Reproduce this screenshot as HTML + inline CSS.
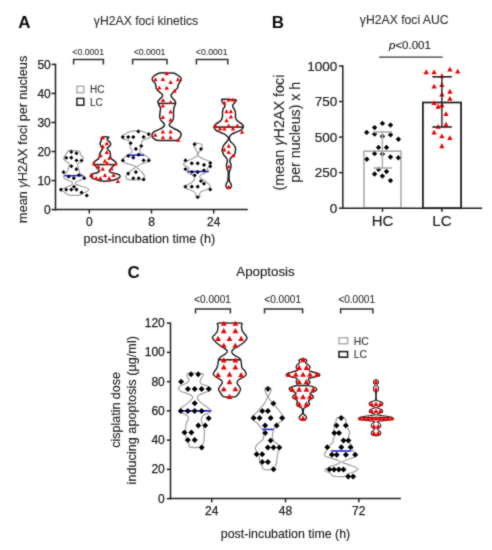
<!DOCTYPE html>
<html><head><meta charset="utf-8"><style>
html,body{margin:0;padding:0;background:#fff;width:492px;height:550px;overflow:hidden}
svg{display:block}
</style></head><body>
<svg width="492" height="550" viewBox="0 0 492 550" font-family='"Liberation Sans", sans-serif'>
<defs><filter id="bl" x="0" y="0" width="492" height="550" filterUnits="userSpaceOnUse"><feConvolveMatrix order="3" kernelMatrix="0.025 0.09 0.025 0.09 0.54 0.09 0.025 0.09 0.025" edgeMode="duplicate"/></filter></defs>
<rect width="492" height="550" fill="#fff"/>
<g filter="url(#bl)">
<text x="24.3" y="27.8" font-size="17" text-anchor="middle" font-weight="bold" fill="#111">A</text>
<text x="146" y="25" font-size="12.2" text-anchor="middle" fill="#333" stroke="#333" stroke-width="0.12">γH2AX foci kinetics</text>
<line x1="55.5" y1="63.7" x2="55.5" y2="210.35" stroke="#222" stroke-width="1.5" stroke-linecap="butt"/>
<line x1="54.75" y1="209.6" x2="247.8" y2="209.6" stroke="#222" stroke-width="1.5" stroke-linecap="butt"/>
<line x1="51.5" y1="209.6" x2="55.5" y2="209.6" stroke="#222" stroke-width="1.5" stroke-linecap="butt"/>
<text x="50.8" y="213.9" font-size="12" text-anchor="end" fill="#222" stroke="#222" stroke-width="0.25">0</text>
<line x1="51.5" y1="180.56" x2="55.5" y2="180.56" stroke="#222" stroke-width="1.5" stroke-linecap="butt"/>
<text x="50.8" y="184.86" font-size="12" text-anchor="end" fill="#222" stroke="#222" stroke-width="0.25">10</text>
<line x1="51.5" y1="151.51999999999998" x2="55.5" y2="151.51999999999998" stroke="#222" stroke-width="1.5" stroke-linecap="butt"/>
<text x="50.8" y="155.82" font-size="12" text-anchor="end" fill="#222" stroke="#222" stroke-width="0.25">20</text>
<line x1="51.5" y1="122.47999999999999" x2="55.5" y2="122.47999999999999" stroke="#222" stroke-width="1.5" stroke-linecap="butt"/>
<text x="50.8" y="126.77999999999999" font-size="12" text-anchor="end" fill="#222" stroke="#222" stroke-width="0.25">30</text>
<line x1="51.5" y1="93.44" x2="55.5" y2="93.44" stroke="#222" stroke-width="1.5" stroke-linecap="butt"/>
<text x="50.8" y="97.74" font-size="12" text-anchor="end" fill="#222" stroke="#222" stroke-width="0.25">40</text>
<line x1="51.5" y1="64.4" x2="55.5" y2="64.4" stroke="#222" stroke-width="1.5" stroke-linecap="butt"/>
<text x="50.8" y="68.7" font-size="12" text-anchor="end" fill="#222" stroke="#222" stroke-width="0.25">50</text>
<line x1="89.3" y1="209.6" x2="89.3" y2="213.5" stroke="#222" stroke-width="1.5" stroke-linecap="butt"/>
<text x="89.3" y="226" font-size="12" text-anchor="middle" fill="#222" stroke="#222" stroke-width="0.25">0</text>
<line x1="151.5" y1="209.6" x2="151.5" y2="213.5" stroke="#222" stroke-width="1.5" stroke-linecap="butt"/>
<text x="151.5" y="226" font-size="12" text-anchor="middle" fill="#222" stroke="#222" stroke-width="0.25">8</text>
<line x1="213.7" y1="209.6" x2="213.7" y2="213.5" stroke="#222" stroke-width="1.5" stroke-linecap="butt"/>
<text x="213.7" y="226" font-size="12" text-anchor="middle" fill="#222" stroke="#222" stroke-width="0.25">24</text>
<text x="149.4" y="242.6" font-size="12.6" text-anchor="middle" fill="#222" stroke="#222" stroke-width="0.12">post-incubation time (h)</text>
<text x="27.3" y="139.35" font-size="12.7" text-anchor="middle" fill="#222" transform="rotate(-90 27.3 139.35)" stroke="#222" stroke-width="0.12">mean <tspan font-style="italic">γ</tspan>H2AX foci per nucleus</text>
<path d="M73.60000000000001,64.6V59.5H103.39999999999999V64.6" fill="none" stroke="#333" stroke-width="1.5"/>
<text x="88.2" y="54.7" font-size="8.7" text-anchor="middle" fill="#333" stroke="#333" stroke-width="0.12">&lt;0.0001</text>
<path d="M132.6,64.6V59.5H167.0V64.6" fill="none" stroke="#333" stroke-width="1.5"/>
<text x="149.5" y="54.7" font-size="8.7" text-anchor="middle" fill="#333" stroke="#333" stroke-width="0.12">&lt;0.0001</text>
<path d="M196.39999999999998,64.6V59.5H227.8V64.6" fill="none" stroke="#333" stroke-width="1.5"/>
<text x="211.7" y="54.7" font-size="8.7" text-anchor="middle" fill="#333" stroke="#333" stroke-width="0.12">&lt;0.0001</text>
<rect x="76.9" y="86.2" width="6.9" height="6.6" fill="none" stroke="#aaa" stroke-width="1.4"/>
<rect x="76.9" y="98.4" width="6.9" height="6.8" fill="none" stroke="#222" stroke-width="1.5"/>
<text x="90" y="92.8" font-size="10" text-anchor="start" fill="#333" stroke="#333" stroke-width="0.12">HC</text>
<text x="90" y="105.6" font-size="10" text-anchor="start" fill="#333" stroke="#333" stroke-width="0.12">LC</text>
<path d="M68.10,151.00 C68.65,150.47 69.18,150.38 70.00,150.30 C70.82,150.22 72.00,150.42 73.00,150.50 C74.00,150.58 75.03,150.72 76.00,150.80 C76.97,150.88 78.10,150.67 78.80,151.00 C79.50,151.33 79.85,152.13 80.20,152.80 C80.55,153.47 80.43,154.28 80.90,155.00 C81.37,155.72 82.58,156.40 83.00,157.10 C83.42,157.80 83.63,158.43 83.40,159.20 C83.17,159.97 82.37,161.10 81.60,161.70 C80.83,162.30 79.45,162.38 78.80,162.80 C78.15,163.22 77.83,163.50 77.70,164.20 C77.57,164.90 77.82,166.05 78.00,167.00 C78.18,167.95 78.55,169.07 78.80,169.90 C79.05,170.73 79.22,171.28 79.50,172.00 C79.78,172.72 79.92,173.60 80.50,174.20 C81.08,174.80 82.42,175.05 83.00,175.60 C83.58,176.15 84.37,176.77 84.00,177.50 C83.63,178.23 82.05,179.35 80.80,180.00 C79.55,180.65 77.40,180.87 76.50,181.40 C75.60,181.93 75.40,182.67 75.40,183.20 C75.40,183.73 75.60,184.13 76.50,184.60 C77.40,185.07 79.15,185.47 80.80,186.00 C82.45,186.53 85.05,187.20 86.40,187.80 C87.75,188.40 88.90,188.95 88.90,189.60 C88.90,190.25 87.40,191.05 86.40,191.70 C85.40,192.35 84.08,192.92 82.90,193.50 C81.72,194.08 80.78,194.90 79.30,195.20 C77.82,195.50 75.65,195.30 74.00,195.30 C72.35,195.30 70.53,195.38 69.40,195.20 C68.27,195.02 68.03,194.73 67.20,194.20 C66.37,193.67 65.40,192.63 64.40,192.00 C63.40,191.37 61.20,191.05 61.20,190.40 C61.20,189.75 63.15,188.77 64.40,188.10 C65.65,187.43 67.52,186.93 68.70,186.40 C69.88,185.87 70.85,185.43 71.50,184.90 C72.15,184.37 72.60,183.73 72.60,183.20 C72.60,182.67 72.27,182.23 71.50,181.70 C70.73,181.17 69.12,180.53 68.00,180.00 C66.88,179.47 65.52,178.98 64.80,178.50 C64.08,178.02 63.87,177.58 63.70,177.10 C63.53,176.62 63.42,176.22 63.80,175.60 C64.18,174.98 65.40,174.12 66.00,173.40 C66.60,172.68 67.00,172.12 67.40,171.30 C67.80,170.48 68.10,169.45 68.40,168.50 C68.70,167.55 69.13,166.43 69.20,165.60 C69.27,164.77 69.33,164.20 68.80,163.50 C68.27,162.80 66.83,162.12 66.00,161.40 C65.17,160.68 64.05,160.03 63.80,159.20 C63.55,158.37 64.02,157.35 64.50,156.40 C64.98,155.45 66.10,154.40 66.70,153.50 C67.30,152.60 67.55,151.53 68.10,151.00Z" fill="none" stroke="#a0a0a0" stroke-width="1.2" stroke-linejoin="round"/>
<line x1="64.4" y1="175.7" x2="83.2" y2="175.7" stroke="#2828d8" stroke-width="1.6" stroke-linecap="butt"/>
<path d="M71.30,149.70L73.40,151.80L71.30,153.90L69.20,151.80Z" fill="#000"/>
<path d="M76.50,151.10L78.60,153.20L76.50,155.30L74.40,153.20Z" fill="#000"/>
<path d="M66.20,155.70L68.30,157.80L66.20,159.90L64.10,157.80Z" fill="#000"/>
<path d="M71.30,155.60L73.40,157.70L71.30,159.80L69.20,157.70Z" fill="#000"/>
<path d="M76.50,158.40L78.60,160.50L76.50,162.60L74.40,160.50Z" fill="#000"/>
<path d="M81.50,158.40L83.60,160.50L81.50,162.60L79.40,160.50Z" fill="#000"/>
<path d="M71.30,164.10L73.40,166.20L71.30,168.30L69.20,166.20Z" fill="#000"/>
<path d="M76.50,167.10L78.60,169.20L76.50,171.30L74.40,169.20Z" fill="#000"/>
<path d="M63.60,170.10L65.70,172.20L63.60,174.30L61.50,172.20Z" fill="#000"/>
<path d="M79.00,172.90L81.10,175.00L79.00,177.10L76.90,175.00Z" fill="#000"/>
<path d="M68.70,174.50L70.80,176.60L68.70,178.70L66.60,176.60Z" fill="#000"/>
<path d="M73.80,176.10L75.90,178.20L73.80,180.30L71.70,178.20Z" fill="#000"/>
<path d="M84.20,176.10L86.30,178.20L84.20,180.30L82.10,178.20Z" fill="#000"/>
<path d="M74.00,184.60L76.10,186.70L74.00,188.80L71.90,186.70Z" fill="#000"/>
<path d="M61.00,187.50L63.10,189.60L61.00,191.70L58.90,189.60Z" fill="#000"/>
<path d="M66.20,187.50L68.30,189.60L66.20,191.70L64.10,189.60Z" fill="#000"/>
<path d="M71.30,187.50L73.40,189.60L71.30,191.70L69.20,189.60Z" fill="#000"/>
<path d="M76.50,187.50L78.60,189.60L76.50,191.70L74.40,189.60Z" fill="#000"/>
<path d="M81.50,190.50L83.60,192.60L81.50,194.70L79.40,192.60Z" fill="#000"/>
<path d="M86.80,193.40L88.90,195.50L86.80,197.60L84.70,195.50Z" fill="#000"/>
<path d="M101.90,137.10 C103.13,136.50 107.72,136.73 108.60,137.10 C109.48,137.47 107.08,138.52 107.20,139.30 C107.32,140.08 108.70,140.98 109.30,141.80 C109.90,142.62 110.80,143.43 110.80,144.20 C110.80,144.97 109.90,145.73 109.30,146.40 C108.70,147.07 107.32,147.55 107.20,148.20 C107.08,148.85 108.13,149.65 108.60,150.30 C109.07,150.95 109.70,151.33 110.00,152.10 C110.30,152.87 110.27,153.95 110.40,154.90 C110.53,155.85 110.38,156.97 110.80,157.80 C111.22,158.63 112.13,159.25 112.90,159.90 C113.67,160.55 114.80,161.12 115.40,161.70 C116.00,162.28 116.62,162.88 116.50,163.40 C116.38,163.92 115.30,164.30 114.70,164.80 C114.10,165.30 113.55,165.72 112.90,166.40 C112.25,167.08 111.40,168.13 110.80,168.90 C110.20,169.67 109.30,170.42 109.30,171.00 C109.30,171.58 109.85,171.98 110.80,172.40 C111.75,172.82 113.58,173.08 115.00,173.50 C116.42,173.92 118.47,174.37 119.30,174.90 C120.13,175.43 120.23,176.10 120.00,176.70 C119.77,177.30 119.08,177.92 117.90,178.50 C116.72,179.08 114.92,179.75 112.90,180.20 C110.88,180.65 108.17,181.13 105.80,181.20 C103.43,181.27 100.72,181.00 98.70,180.60 C96.68,180.20 95.02,179.40 93.70,178.80 C92.38,178.20 91.33,177.58 90.80,177.00 C90.27,176.42 90.13,175.83 90.50,175.30 C90.87,174.77 91.88,174.22 93.00,173.80 C94.12,173.38 96.13,173.27 97.20,172.80 C98.27,172.33 99.27,171.65 99.40,171.00 C99.53,170.35 98.53,169.62 98.00,168.90 C97.47,168.18 96.80,167.38 96.20,166.70 C95.60,166.02 94.88,165.40 94.40,164.80 C93.92,164.20 93.30,163.62 93.30,163.10 C93.30,162.58 93.87,162.18 94.40,161.70 C94.93,161.22 95.78,160.73 96.50,160.20 C97.22,159.67 98.22,159.15 98.70,158.50 C99.18,157.85 99.23,157.13 99.40,156.30 C99.57,155.47 99.40,154.38 99.70,153.50 C100.00,152.62 100.72,151.77 101.20,151.00 C101.68,150.23 102.60,149.67 102.60,148.90 C102.60,148.13 101.62,147.30 101.20,146.40 C100.78,145.50 100.10,144.45 100.10,143.50 C100.10,142.55 100.90,141.77 101.20,140.70 C101.50,139.63 100.67,137.70 101.90,137.10Z" fill="none" stroke="#222" stroke-width="1.5" stroke-linejoin="round"/>
<line x1="94.4" y1="164.6" x2="114.2" y2="164.6" stroke="#222" stroke-width="1.6" stroke-linecap="butt"/>
<path d="M102.70,135.60L104.90,139.60L100.50,139.60Z" fill="#f00000"/>
<path d="M106.80,141.20L109.00,145.20L104.60,145.20Z" fill="#f00000"/>
<path d="M102.70,144.20L104.90,148.20L100.50,148.20Z" fill="#f00000"/>
<path d="M106.80,149.90L109.00,153.90L104.60,153.90Z" fill="#f00000"/>
<path d="M100.60,153.20L102.80,157.20L98.40,157.20Z" fill="#f00000"/>
<path d="M109.30,155.80L111.50,159.80L107.10,159.80Z" fill="#f00000"/>
<path d="M104.90,158.70L107.10,162.70L102.70,162.70Z" fill="#f00000"/>
<path d="M94.20,161.40L96.40,165.40L92.00,165.40Z" fill="#f00000"/>
<path d="M107.10,161.10L109.30,165.10L104.90,165.10Z" fill="#f00000"/>
<path d="M115.70,161.60L117.90,165.60L113.50,165.60Z" fill="#f00000"/>
<path d="M98.30,164.50L100.50,168.50L96.10,168.50Z" fill="#f00000"/>
<path d="M102.70,166.80L104.90,170.80L100.50,170.80Z" fill="#f00000"/>
<path d="M111.50,166.60L113.70,170.60L109.30,170.60Z" fill="#f00000"/>
<path d="M104.90,173.10L107.10,177.10L102.70,177.10Z" fill="#f00000"/>
<path d="M91.60,173.10L93.80,177.10L89.40,177.10Z" fill="#f00000"/>
<path d="M113.50,173.10L115.70,177.10L111.30,177.10Z" fill="#f00000"/>
<path d="M96.20,175.90L98.40,179.90L94.00,179.90Z" fill="#f00000"/>
<path d="M100.40,175.90L102.60,179.90L98.20,179.90Z" fill="#f00000"/>
<path d="M109.20,175.90L111.40,179.90L107.00,179.90Z" fill="#f00000"/>
<path d="M117.90,179.10L120.10,183.10L115.70,183.10Z" fill="#f00000"/>
<path d="M121.30,137.10 C121.70,136.15 124.48,134.35 126.10,133.40 C127.72,132.45 129.10,131.87 131.00,131.40 C132.90,130.93 135.60,130.60 137.50,130.60 C139.40,130.60 140.77,130.93 142.40,131.40 C144.03,131.87 145.95,132.65 147.30,133.40 C148.65,134.15 150.03,135.22 150.50,135.90 C150.97,136.58 150.92,136.97 150.10,137.50 C149.28,138.03 146.88,138.57 145.60,139.10 C144.32,139.63 143.07,139.95 142.40,140.70 C141.73,141.45 141.80,142.58 141.60,143.60 C141.40,144.62 141.47,145.72 141.20,146.80 C140.93,147.88 140.13,149.15 140.00,150.10 C139.87,151.05 140.00,151.83 140.40,152.50 C140.80,153.17 141.53,153.57 142.40,154.10 C143.27,154.63 144.52,155.03 145.60,155.70 C146.68,156.37 148.08,157.28 148.90,158.10 C149.72,158.92 150.90,159.92 150.50,160.60 C150.10,161.28 147.98,161.67 146.50,162.20 C145.02,162.73 143.03,163.18 141.60,163.80 C140.17,164.42 138.72,165.35 137.90,165.90 C137.08,166.45 136.77,166.70 136.70,167.10 C136.63,167.50 136.82,167.63 137.50,168.30 C138.18,168.97 139.85,170.22 140.80,171.10 C141.75,171.98 142.60,172.78 143.20,173.60 C143.80,174.42 144.27,175.12 144.40,176.00 C144.53,176.88 145.02,178.28 144.00,178.90 C142.98,179.52 140.87,179.57 138.30,179.70 C135.73,179.83 130.63,179.90 128.60,179.70 C126.57,179.50 126.52,179.12 126.10,178.50 C125.68,177.88 125.82,176.82 126.10,176.00 C126.38,175.18 126.98,174.48 127.80,173.60 C128.62,172.72 129.92,171.58 131.00,170.70 C132.08,169.82 133.55,168.90 134.30,168.30 C135.05,167.70 135.50,167.50 135.50,167.10 C135.50,166.70 135.32,166.38 134.30,165.90 C133.28,165.42 131.17,164.82 129.40,164.20 C127.63,163.58 124.98,162.80 123.70,162.20 C122.42,161.60 121.70,161.28 121.70,160.60 C121.70,159.92 122.78,158.95 123.70,158.10 C124.62,157.25 125.98,156.30 127.20,155.50 C128.42,154.70 130.17,154.00 131.00,153.30 C131.83,152.60 132.13,151.90 132.20,151.30 C132.27,150.70 131.73,150.45 131.40,149.70 C131.07,148.95 130.47,147.88 130.20,146.80 C129.93,145.72 130.07,144.28 129.80,143.20 C129.53,142.12 129.62,140.98 128.60,140.30 C127.58,139.62 124.92,139.63 123.70,139.10 C122.48,138.57 120.90,138.05 121.30,137.10Z" fill="none" stroke="#a0a0a0" stroke-width="1.2" stroke-linejoin="round"/>
<line x1="127.2" y1="155.2" x2="144.2" y2="155.2" stroke="#2828d8" stroke-width="1.6" stroke-linecap="butt"/>
<path d="M138.30,129.30L140.40,131.40L138.30,133.50L136.20,131.40Z" fill="#000"/>
<path d="M148.70,132.10L150.80,134.20L148.70,136.30L146.60,134.20Z" fill="#000"/>
<path d="M122.90,135.00L125.00,137.10L122.90,139.20L120.80,137.10Z" fill="#000"/>
<path d="M128.20,135.00L130.30,137.10L128.20,139.20L126.10,137.10Z" fill="#000"/>
<path d="M133.30,135.00L135.40,137.10L133.30,139.20L131.20,137.10Z" fill="#000"/>
<path d="M143.60,135.00L145.70,137.10L143.60,139.20L141.50,137.10Z" fill="#000"/>
<path d="M130.60,141.10L132.70,143.20L130.60,145.30L128.50,143.20Z" fill="#000"/>
<path d="M141.20,143.90L143.30,146.00L141.20,148.10L139.10,146.00Z" fill="#000"/>
<path d="M135.90,146.80L138.00,148.90L135.90,151.00L133.80,148.90Z" fill="#000"/>
<path d="M138.70,152.50L140.80,154.60L138.70,156.70L136.60,154.60Z" fill="#000"/>
<path d="M128.20,153.90L130.30,156.00L128.20,158.10L126.10,156.00Z" fill="#000"/>
<path d="M133.30,155.50L135.40,157.60L133.30,159.70L131.20,157.60Z" fill="#000"/>
<path d="M122.90,158.30L125.00,160.40L122.90,162.50L120.80,160.40Z" fill="#000"/>
<path d="M143.60,158.30L145.70,160.40L143.60,162.50L141.50,160.40Z" fill="#000"/>
<path d="M148.70,158.30L150.80,160.40L148.70,162.50L146.60,160.40Z" fill="#000"/>
<path d="M135.90,170.00L138.00,172.10L135.90,174.20L133.80,172.10Z" fill="#000"/>
<path d="M128.20,171.50L130.30,173.60L128.20,175.70L126.10,173.60Z" fill="#000"/>
<path d="M133.30,176.20L135.40,178.30L133.30,180.40L131.20,178.30Z" fill="#000"/>
<path d="M138.70,176.20L140.80,178.30L138.70,180.40L136.60,178.30Z" fill="#000"/>
<path d="M143.60,177.30L145.70,179.40L143.60,181.50L141.50,179.40Z" fill="#000"/>
<path d="M159.70,73.10 C161.60,72.72 164.30,72.90 166.60,72.90 C168.90,72.90 171.75,72.78 173.50,73.10 C175.25,73.42 175.95,74.12 177.10,74.80 C178.25,75.48 179.72,76.40 180.40,77.20 C181.08,78.00 181.33,78.72 181.20,79.60 C181.07,80.48 180.13,81.55 179.60,82.50 C179.07,83.45 178.33,84.42 178.00,85.30 C177.67,86.18 178.02,86.98 177.60,87.80 C177.18,88.62 176.25,89.40 175.50,90.20 C174.75,91.00 173.85,91.78 173.10,92.60 C172.35,93.42 171.20,94.28 171.00,95.10 C170.80,95.92 171.35,96.68 171.90,97.50 C172.45,98.32 173.68,99.17 174.30,100.00 C174.92,100.83 175.47,101.68 175.60,102.50 C175.73,103.32 175.38,103.97 175.10,104.90 C174.82,105.83 174.17,106.88 173.90,108.10 C173.63,109.32 173.57,110.83 173.50,112.20 C173.43,113.57 173.57,115.08 173.50,116.30 C173.43,117.52 173.52,118.48 173.10,119.50 C172.68,120.52 171.62,121.58 171.00,122.40 C170.38,123.22 169.60,123.80 169.40,124.40 C169.20,125.00 169.05,125.32 169.80,126.00 C170.55,126.68 172.53,127.75 173.90,128.50 C175.27,129.25 176.92,129.83 178.00,130.50 C179.08,131.17 179.87,131.83 180.40,132.50 C180.93,133.17 181.27,133.67 181.20,134.50 C181.13,135.33 180.68,136.55 180.00,137.50 C179.32,138.45 179.33,139.72 177.10,140.20 C174.87,140.68 169.98,140.40 166.60,140.40 C163.22,140.40 158.93,140.50 156.80,140.20 C154.67,139.90 154.58,139.27 153.80,138.60 C153.02,137.93 152.33,137.03 152.10,136.20 C151.87,135.37 152.02,134.35 152.40,133.60 C152.78,132.85 153.40,132.35 154.40,131.70 C155.40,131.05 157.05,130.38 158.40,129.70 C159.75,129.02 161.48,128.35 162.50,127.60 C163.52,126.85 164.37,126.00 164.50,125.20 C164.63,124.40 163.97,123.75 163.30,122.80 C162.63,121.85 161.10,120.58 160.50,119.50 C159.90,118.42 159.77,117.52 159.70,116.30 C159.63,115.08 159.97,113.57 160.10,112.20 C160.23,110.83 160.70,109.32 160.50,108.10 C160.30,106.88 159.35,105.92 158.90,104.90 C158.45,103.88 157.88,102.68 157.80,102.00 C157.72,101.32 157.95,101.42 158.40,100.80 C158.85,100.18 159.82,99.05 160.50,98.30 C161.18,97.55 162.23,96.97 162.50,96.30 C162.77,95.63 162.63,95.05 162.10,94.30 C161.57,93.55 160.18,92.62 159.30,91.80 C158.42,90.98 157.35,90.20 156.80,89.40 C156.25,88.60 156.27,88.02 156.00,87.00 C155.73,85.98 155.73,84.32 155.20,83.30 C154.67,82.28 153.28,81.78 152.80,80.90 C152.32,80.02 151.90,78.95 152.30,78.00 C152.70,77.05 153.97,76.02 155.20,75.20 C156.43,74.38 157.80,73.48 159.70,73.10Z" fill="none" stroke="#222" stroke-width="1.5" stroke-linejoin="round"/>
<line x1="158.4" y1="103.4" x2="175.9" y2="103.4" stroke="#222" stroke-width="1.6" stroke-linecap="butt"/>
<path d="M166.70,71.30L168.90,75.30L164.50,75.30Z" fill="#f00000"/>
<path d="M155.40,77.30L157.60,81.30L153.20,81.30Z" fill="#f00000"/>
<path d="M162.90,77.00L165.10,81.00L160.70,81.00Z" fill="#f00000"/>
<path d="M178.10,77.30L180.30,81.30L175.90,81.30Z" fill="#f00000"/>
<path d="M170.60,79.90L172.80,83.90L168.40,83.90Z" fill="#f00000"/>
<path d="M159.30,85.60L161.50,89.60L157.10,89.60Z" fill="#f00000"/>
<path d="M166.70,85.70L168.90,89.70L164.50,89.70Z" fill="#f00000"/>
<path d="M174.50,88.80L176.70,92.80L172.30,92.80Z" fill="#f00000"/>
<path d="M163.00,98.00L165.20,102.00L160.80,102.00Z" fill="#f00000"/>
<path d="M170.60,100.10L172.80,104.10L168.40,104.10Z" fill="#f00000"/>
<path d="M162.90,103.50L165.10,107.50L160.70,107.50Z" fill="#f00000"/>
<path d="M170.60,109.60L172.80,113.60L168.40,113.60Z" fill="#f00000"/>
<path d="M162.90,114.90L165.10,118.90L160.70,118.90Z" fill="#f00000"/>
<path d="M170.60,117.70L172.80,121.70L168.40,121.70Z" fill="#f00000"/>
<path d="M162.90,129.60L165.10,133.60L160.70,133.60Z" fill="#f00000"/>
<path d="M170.60,129.60L172.80,133.60L168.40,133.60Z" fill="#f00000"/>
<path d="M155.20,132.70L157.40,136.70L153.00,136.70Z" fill="#f00000"/>
<path d="M162.90,135.30L165.10,139.30L160.70,139.30Z" fill="#f00000"/>
<path d="M170.60,135.30L172.80,139.30L168.40,139.30Z" fill="#f00000"/>
<path d="M178.20,137.80L180.40,141.80L176.00,141.80Z" fill="#f00000"/>
<path d="M193.80,143.10 C194.35,142.60 196.22,143.20 197.50,143.40 C198.78,143.60 200.75,143.67 201.50,144.30 C202.25,144.93 202.13,146.18 202.00,147.20 C201.87,148.22 201.25,149.52 200.70,150.40 C200.15,151.28 199.17,151.75 198.70,152.50 C198.23,153.25 197.77,154.15 197.90,154.90 C198.03,155.65 198.55,156.32 199.50,157.00 C200.45,157.68 202.10,158.33 203.60,159.00 C205.10,159.67 207.22,160.40 208.50,161.00 C209.78,161.60 210.90,161.92 211.30,162.60 C211.70,163.28 211.37,164.28 210.90,165.10 C210.43,165.92 209.18,166.83 208.50,167.50 C207.82,168.17 206.83,168.48 206.80,169.10 C206.77,169.72 208.70,170.48 208.30,171.20 C207.90,171.92 205.73,172.70 204.40,173.40 C203.07,174.10 201.05,174.72 200.30,175.40 C199.55,176.08 199.48,176.82 199.90,177.50 C200.32,178.18 201.65,178.68 202.80,179.50 C203.95,180.32 205.65,181.45 206.80,182.40 C207.95,183.35 209.15,184.33 209.70,185.20 C210.25,186.07 210.72,186.85 210.10,187.60 C209.48,188.35 207.50,189.02 206.00,189.70 C204.50,190.38 202.18,190.97 201.10,191.70 C200.02,192.43 199.70,193.28 199.50,194.10 C199.30,194.92 200.20,195.92 199.90,196.60 C199.60,197.28 198.37,198.20 197.70,198.20 C197.03,198.20 196.20,197.20 195.90,196.60 C195.60,196.00 196.12,195.35 195.90,194.60 C195.68,193.85 195.62,192.92 194.60,192.10 C193.58,191.28 191.42,190.38 189.80,189.70 C188.18,189.02 185.85,188.55 184.90,188.00 C183.95,187.45 183.83,186.87 184.10,186.40 C184.37,185.93 185.42,185.73 186.50,185.20 C187.58,184.67 189.38,184.02 190.60,183.20 C191.82,182.38 193.07,181.25 193.80,180.30 C194.53,179.35 195.13,178.32 195.00,177.50 C194.87,176.68 194.02,176.08 193.00,175.40 C191.98,174.72 189.85,174.10 188.90,173.40 C187.95,172.70 187.30,171.98 187.30,171.20 C187.30,170.42 188.77,169.38 188.90,168.70 C189.03,168.02 188.77,167.63 188.10,167.10 C187.43,166.57 185.70,166.03 184.90,165.50 C184.10,164.97 183.17,164.52 183.30,163.90 C183.43,163.28 184.62,162.48 185.70,161.80 C186.78,161.12 188.32,160.47 189.80,159.80 C191.28,159.13 193.38,158.55 194.60,157.80 C195.82,157.05 196.62,156.18 197.10,155.30 C197.58,154.42 197.70,153.45 197.50,152.50 C197.30,151.55 196.45,150.62 195.90,149.60 C195.35,148.58 194.55,147.48 194.20,146.40 C193.85,145.32 193.25,143.60 193.80,143.10Z" fill="none" stroke="#a0a0a0" stroke-width="1.2" stroke-linejoin="round"/>
<line x1="187.1" y1="171.5" x2="208.7" y2="171.5" stroke="#2828d8" stroke-width="1.6" stroke-linecap="butt"/>
<path d="M194.60,142.20L196.70,144.30L194.60,146.40L192.50,144.30Z" fill="#000"/>
<path d="M201.00,146.90L203.10,149.00L201.00,151.10L198.90,149.00Z" fill="#000"/>
<path d="M185.50,158.30L187.60,160.40L185.50,162.50L183.40,160.40Z" fill="#000"/>
<path d="M191.80,161.20L193.90,163.30L191.80,165.40L189.70,163.30Z" fill="#000"/>
<path d="M197.70,161.20L199.80,163.30L197.70,165.40L195.60,163.30Z" fill="#000"/>
<path d="M204.00,162.80L206.10,164.90L204.00,167.00L201.90,164.90Z" fill="#000"/>
<path d="M210.20,160.90L212.30,163.00L210.20,165.10L208.10,163.00Z" fill="#000"/>
<path d="M210.20,164.20L212.30,166.30L210.20,168.40L208.10,166.30Z" fill="#000"/>
<path d="M185.50,167.00L187.60,169.10L185.50,171.20L183.40,169.10Z" fill="#000"/>
<path d="M191.80,170.00L193.90,172.10L191.80,174.20L189.70,172.10Z" fill="#000"/>
<path d="M197.70,170.00L199.80,172.10L197.70,174.20L195.60,172.10Z" fill="#000"/>
<path d="M204.00,168.30L206.10,170.40L204.00,172.50L201.90,170.40Z" fill="#000"/>
<path d="M194.60,173.20L196.70,175.30L194.60,177.40L192.50,175.30Z" fill="#000"/>
<path d="M201.00,178.90L203.10,181.00L201.00,183.10L198.90,181.00Z" fill="#000"/>
<path d="M204.00,181.60L206.10,183.70L204.00,185.80L201.90,183.70Z" fill="#000"/>
<path d="M185.50,184.60L187.60,186.70L185.50,188.80L183.40,186.70Z" fill="#000"/>
<path d="M191.80,184.60L193.90,186.70L191.80,188.80L189.70,186.70Z" fill="#000"/>
<path d="M197.70,184.60L199.80,186.70L197.70,188.80L195.60,186.70Z" fill="#000"/>
<path d="M210.20,187.30L212.30,189.40L210.20,191.50L208.10,189.40Z" fill="#000"/>
<path d="M197.70,194.90L199.80,197.00L197.70,199.10L195.60,197.00Z" fill="#000"/>
<path d="M222.10,99.30 C223.25,99.12 226.57,99.32 228.80,99.40 C231.03,99.48 234.32,99.53 235.50,99.80 C236.68,100.07 236.10,100.47 235.90,101.00 C235.70,101.53 234.85,102.27 234.30,103.00 C233.75,103.73 232.73,104.58 232.60,105.40 C232.47,106.22 233.08,106.95 233.50,107.90 C233.92,108.85 234.77,110.02 235.10,111.10 C235.43,112.18 235.43,113.32 235.50,114.40 C235.57,115.48 235.30,116.65 235.50,117.60 C235.70,118.55 236.10,119.35 236.70,120.10 C237.30,120.85 238.22,121.43 239.10,122.10 C239.98,122.77 241.28,123.37 242.00,124.10 C242.72,124.83 243.33,125.75 243.40,126.50 C243.47,127.25 242.83,127.98 242.40,128.60 C241.97,129.22 241.88,129.60 240.80,130.20 C239.72,130.80 237.40,131.53 235.90,132.20 C234.40,132.87 232.88,133.38 231.80,134.20 C230.72,135.02 229.67,135.95 229.40,137.10 C229.13,138.25 229.52,139.88 230.20,141.10 C230.88,142.32 232.62,143.25 233.50,144.40 C234.38,145.55 235.20,146.82 235.50,148.00 C235.80,149.18 235.50,150.35 235.30,151.50 C235.10,152.65 235.02,153.87 234.30,154.90 C233.58,155.93 231.75,156.68 231.00,157.70 C230.25,158.72 229.80,159.85 229.80,161.00 C229.80,162.15 230.87,163.32 231.00,164.60 C231.13,165.88 230.87,167.55 230.60,168.70 C230.33,169.85 229.67,170.15 229.40,171.50 C229.13,172.85 229.00,175.23 229.00,176.80 C229.00,178.37 229.07,179.68 229.40,180.90 C229.73,182.12 230.67,183.15 231.00,184.10 C231.33,185.05 231.60,185.90 231.40,186.60 C231.20,187.30 230.27,187.98 229.80,188.30 C229.33,188.62 229.03,188.50 228.60,188.50 C228.17,188.50 227.62,188.62 227.20,188.30 C226.78,187.98 226.28,187.30 226.10,186.60 C225.92,185.90 225.82,185.05 226.10,184.10 C226.38,183.15 227.45,182.12 227.80,180.90 C228.15,179.68 228.13,178.37 228.20,176.80 C228.27,175.23 228.40,172.85 228.20,171.50 C228.00,170.15 227.28,169.85 227.00,168.70 C226.72,167.55 226.43,165.88 226.50,164.60 C226.57,163.32 227.40,162.08 227.40,161.00 C227.40,159.92 227.12,159.12 226.50,158.10 C225.88,157.08 224.40,156.08 223.70,154.90 C223.00,153.72 222.57,151.80 222.30,151.00 C222.03,150.20 221.93,150.93 222.10,150.10 C222.27,149.27 222.57,147.35 223.30,146.00 C224.03,144.65 225.62,143.22 226.50,142.00 C227.38,140.78 228.38,139.52 228.60,138.70 C228.82,137.88 228.48,137.85 227.80,137.10 C227.12,136.35 225.87,135.02 224.50,134.20 C223.13,133.38 221.08,132.93 219.60,132.20 C218.12,131.47 216.53,130.57 215.60,129.80 C214.67,129.03 214.22,128.27 214.00,127.60 C213.78,126.93 213.90,126.45 214.30,125.80 C214.70,125.15 215.52,124.38 216.40,123.70 C217.28,123.02 218.72,122.43 219.60,121.70 C220.48,120.97 221.22,120.25 221.70,119.30 C222.18,118.35 222.37,117.22 222.50,116.00 C222.63,114.78 222.37,113.22 222.50,112.00 C222.63,110.78 222.90,109.65 223.30,108.70 C223.70,107.75 224.70,107.05 224.90,106.30 C225.10,105.55 224.90,104.88 224.50,104.20 C224.10,103.52 222.93,102.82 222.50,102.20 C222.07,101.58 221.97,100.98 221.90,100.50 C221.83,100.02 220.95,99.48 222.10,99.30Z" fill="none" stroke="#222" stroke-width="1.5" stroke-linejoin="round"/>
<line x1="214.2" y1="127.1" x2="243.2" y2="127.1" stroke="#222" stroke-width="1.6" stroke-linecap="butt"/>
<path d="M228.70,97.40L230.90,101.40L226.50,101.40Z" fill="#f00000"/>
<path d="M233.00,97.60L235.20,101.60L230.80,101.60Z" fill="#f00000"/>
<path d="M224.30,100.40L226.50,104.40L222.10,104.40Z" fill="#f00000"/>
<path d="M226.50,109.30L228.70,113.30L224.30,113.30Z" fill="#f00000"/>
<path d="M230.90,109.30L233.10,113.30L228.70,113.30Z" fill="#f00000"/>
<path d="M230.90,114.60L233.10,118.60L228.70,118.60Z" fill="#f00000"/>
<path d="M226.50,118.20L228.70,122.20L224.30,122.20Z" fill="#f00000"/>
<path d="M215.60,123.80L217.80,127.80L213.40,127.80Z" fill="#f00000"/>
<path d="M228.70,123.50L230.90,127.50L226.50,127.50Z" fill="#f00000"/>
<path d="M237.40,123.50L239.60,127.50L235.20,127.50Z" fill="#f00000"/>
<path d="M220.00,126.40L222.20,130.40L217.80,130.40Z" fill="#f00000"/>
<path d="M224.40,126.40L226.60,130.40L222.20,130.40Z" fill="#f00000"/>
<path d="M233.00,126.60L235.20,130.60L230.80,130.60Z" fill="#f00000"/>
<path d="M242.00,129.80L244.20,133.80L239.80,133.80Z" fill="#f00000"/>
<path d="M228.70,143.80L230.90,147.80L226.50,147.80Z" fill="#f00000"/>
<path d="M224.30,147.40L226.50,151.40L222.10,151.40Z" fill="#f00000"/>
<path d="M228.70,150.00L230.90,154.00L226.50,154.00Z" fill="#f00000"/>
<path d="M233.30,153.20L235.50,157.20L231.10,157.20Z" fill="#f00000"/>
<path d="M228.70,164.50L230.90,168.50L226.50,168.50Z" fill="#f00000"/>
<path d="M228.70,184.80L230.90,188.80L226.50,188.80Z" fill="#f00000"/>
<path d="M187.50,374.00 C187.78,373.58 187.35,373.27 188.60,373.10 C189.85,372.93 192.70,372.93 195.00,373.00 C197.30,373.07 201.03,373.20 202.40,373.50 C203.77,373.80 203.33,374.05 203.20,374.80 C203.07,375.55 202.13,376.92 201.60,378.00 C201.07,379.08 200.00,380.28 200.00,381.30 C200.00,382.32 200.52,383.37 201.60,384.10 C202.68,384.83 205.02,385.08 206.50,385.70 C207.98,386.32 209.83,387.05 210.50,387.80 C211.17,388.55 211.45,389.40 210.50,390.20 C209.55,391.00 206.70,391.78 204.80,392.60 C202.90,393.42 200.37,394.28 199.10,395.10 C197.83,395.92 197.33,396.70 197.20,397.50 C197.07,398.30 197.43,398.83 198.30,399.90 C199.17,400.97 200.90,402.68 202.40,403.90 C203.90,405.12 205.88,406.12 207.30,407.20 C208.72,408.28 210.63,409.45 210.90,410.40 C211.17,411.35 210.05,412.15 208.90,412.90 C207.75,413.65 205.22,414.08 204.00,414.90 C202.78,415.72 202.00,416.65 201.60,417.80 C201.20,418.95 201.33,420.45 201.60,421.80 C201.87,423.15 202.77,424.55 203.20,425.90 C203.63,427.25 204.00,428.42 204.20,429.90 C204.40,431.38 204.43,433.18 204.40,434.80 C204.37,436.42 204.20,438.12 204.00,439.60 C203.80,441.08 203.87,442.45 203.20,443.70 C202.53,444.95 202.17,446.53 200.00,447.10 C197.83,447.67 191.97,447.40 190.20,447.10 C188.43,446.80 190.02,446.42 189.40,445.30 C188.78,444.18 187.12,442.15 186.50,440.40 C185.88,438.65 185.83,436.55 185.70,434.80 C185.57,433.05 185.70,431.38 185.70,429.90 C185.70,428.42 185.50,427.25 185.70,425.90 C185.90,424.55 186.42,423.02 186.90,421.80 C187.38,420.58 188.60,419.68 188.60,418.60 C188.60,417.52 188.12,416.32 186.90,415.30 C185.68,414.28 182.58,413.32 181.30,412.50 C180.02,411.68 179.07,411.28 179.20,410.40 C179.33,409.52 180.82,408.28 182.10,407.20 C183.38,406.12 185.45,405.05 186.90,403.90 C188.35,402.75 189.82,401.37 190.80,400.30 C191.78,399.23 192.70,398.32 192.80,397.50 C192.90,396.68 192.38,396.07 191.40,395.40 C190.42,394.73 188.73,394.23 186.90,393.50 C185.07,392.77 181.82,391.82 180.40,391.00 C178.98,390.18 178.40,389.42 178.40,388.60 C178.40,387.78 179.25,386.92 180.40,386.10 C181.55,385.28 183.93,384.50 185.30,383.70 C186.67,382.90 188.05,382.12 188.60,381.30 C189.15,380.48 188.88,379.75 188.60,378.80 C188.32,377.85 187.08,376.40 186.90,375.60 C186.72,374.80 187.22,374.42 187.50,374.00Z" fill="none" stroke="#a0a0a0" stroke-width="1.2" stroke-linejoin="round"/>
<line x1="179.2" y1="410.9" x2="211.3" y2="410.9" stroke="#2828d8" stroke-width="1.6" stroke-linecap="butt"/>
<path d="M191.00,371.30L194.00,374.30L191.00,377.30L188.00,374.30Z" fill="#000"/>
<path d="M198.20,371.30L201.20,374.30L198.20,377.30L195.20,374.30Z" fill="#000"/>
<path d="M181.10,378.70L184.10,381.70L181.10,384.70L178.10,381.70Z" fill="#000"/>
<path d="M187.90,386.00L190.90,389.00L187.90,392.00L184.90,389.00Z" fill="#000"/>
<path d="M194.70,386.00L197.70,389.00L194.70,392.00L191.70,389.00Z" fill="#000"/>
<path d="M201.60,386.00L204.60,389.00L201.60,392.00L198.60,389.00Z" fill="#000"/>
<path d="M208.70,386.00L211.70,389.00L208.70,392.00L205.70,389.00Z" fill="#000"/>
<path d="M194.70,400.30L197.70,403.30L194.70,406.30L191.70,403.30Z" fill="#000"/>
<path d="M180.80,407.90L183.80,410.90L180.80,413.90L177.80,410.90Z" fill="#000"/>
<path d="M187.80,407.90L190.80,410.90L187.80,413.90L184.80,410.90Z" fill="#000"/>
<path d="M194.70,407.90L197.70,410.90L194.70,413.90L191.70,410.90Z" fill="#000"/>
<path d="M201.60,407.90L204.60,410.90L201.60,413.90L198.60,410.90Z" fill="#000"/>
<path d="M208.70,415.20L211.70,418.20L208.70,421.20L205.70,418.20Z" fill="#000"/>
<path d="M198.30,422.60L201.30,425.60L198.30,428.60L195.30,425.60Z" fill="#000"/>
<path d="M205.20,422.60L208.20,425.60L205.20,428.60L202.20,425.60Z" fill="#000"/>
<path d="M184.50,429.60L187.50,432.60L184.50,435.60L181.50,432.60Z" fill="#000"/>
<path d="M191.40,429.60L194.40,432.60L191.40,435.60L188.40,432.60Z" fill="#000"/>
<path d="M187.80,437.00L190.80,440.00L187.80,443.00L184.80,440.00Z" fill="#000"/>
<path d="M194.70,437.00L197.70,440.00L194.70,443.00L191.70,440.00Z" fill="#000"/>
<path d="M201.70,444.40L204.70,447.40L201.70,450.40L198.70,447.40Z" fill="#000"/>
<path d="M218.10,323.20 C220.03,322.65 225.83,323.10 229.70,323.10 C233.57,323.10 239.35,322.65 241.30,323.20 C243.25,323.75 241.20,325.05 241.40,326.40 C241.60,327.75 241.90,329.95 242.50,331.30 C243.10,332.65 244.25,333.42 245.00,334.50 C245.75,335.58 246.87,336.85 247.00,337.80 C247.13,338.75 246.55,339.25 245.80,340.20 C245.05,341.15 243.87,342.42 242.50,343.50 C241.13,344.58 239.08,345.77 237.60,346.70 C236.12,347.63 234.57,348.35 233.60,349.10 C232.63,349.85 231.93,350.37 231.80,351.20 C231.67,352.03 231.97,353.22 232.80,354.10 C233.63,354.98 235.52,355.63 236.80,356.50 C238.08,357.37 239.75,358.22 240.50,359.30 C241.25,360.38 241.03,361.57 241.30,363.00 C241.57,364.43 241.48,366.55 242.10,367.90 C242.72,369.25 244.32,370.02 245.00,371.10 C245.68,372.18 246.35,373.45 246.20,374.40 C246.05,375.35 245.25,375.98 244.10,376.80 C242.95,377.62 240.42,378.52 239.30,379.30 C238.18,380.08 237.75,380.80 237.40,381.50 C237.05,382.20 236.88,382.67 237.20,383.50 C237.52,384.33 238.75,385.53 239.30,386.50 C239.85,387.47 240.57,388.22 240.50,389.30 C240.43,390.38 239.72,391.77 238.90,393.00 C238.08,394.23 237.17,396.05 235.60,396.70 C234.03,397.35 231.53,396.90 229.50,396.90 C227.47,396.90 224.88,397.35 223.40,396.70 C221.92,396.05 221.42,394.23 220.60,393.00 C219.78,391.77 218.63,390.38 218.50,389.30 C218.37,388.22 219.18,387.50 219.80,386.50 C220.42,385.50 221.87,384.25 222.20,383.30 C222.53,382.35 222.07,381.40 221.80,380.80 C221.53,380.20 221.62,380.37 220.60,379.70 C219.58,379.03 216.92,377.68 215.70,376.80 C214.48,375.92 213.57,375.20 213.30,374.40 C213.03,373.60 213.50,373.08 214.10,372.00 C214.70,370.92 216.23,369.40 216.90,367.90 C217.57,366.40 217.77,364.50 218.10,363.00 C218.43,361.50 218.35,359.98 218.90,358.90 C219.45,357.82 220.32,357.30 221.40,356.50 C222.48,355.70 224.42,354.98 225.40,354.10 C226.38,353.22 227.30,352.03 227.30,351.20 C227.30,350.37 226.38,349.92 225.40,349.10 C224.42,348.28 222.75,347.23 221.40,346.30 C220.05,345.37 218.52,344.52 217.30,343.50 C216.08,342.48 214.92,341.22 214.10,340.20 C213.28,339.18 212.27,338.35 212.40,337.40 C212.53,336.45 214.08,335.52 214.90,334.50 C215.72,333.48 216.77,332.65 217.30,331.30 C217.83,329.95 217.97,327.75 218.10,326.40 C218.23,325.05 216.17,323.75 218.10,323.20Z" fill="none" stroke="#222" stroke-width="1.4" stroke-linejoin="round"/>
<line x1="218.9" y1="359.8" x2="240.5" y2="359.8" stroke="#222" stroke-width="1.6" stroke-linecap="butt"/>
<path d="M223.80,320.64L226.70,325.84L220.90,325.84Z" fill="#f00000"/>
<path d="M235.40,320.64L238.30,325.84L232.50,325.84Z" fill="#f00000"/>
<path d="M223.80,328.04L226.70,333.24L220.90,333.24Z" fill="#f00000"/>
<path d="M235.40,328.04L238.30,333.24L232.50,333.24Z" fill="#f00000"/>
<path d="M218.10,335.74L221.00,340.94L215.20,340.94Z" fill="#f00000"/>
<path d="M229.50,335.74L232.40,340.94L226.60,340.94Z" fill="#f00000"/>
<path d="M241.10,335.74L244.00,340.94L238.20,340.94Z" fill="#f00000"/>
<path d="M223.80,342.64L226.70,347.84L220.90,347.84Z" fill="#f00000"/>
<path d="M235.40,342.64L238.30,347.84L232.50,347.84Z" fill="#f00000"/>
<path d="M223.80,357.34L226.70,362.54L220.90,362.54Z" fill="#f00000"/>
<path d="M235.40,357.34L238.30,362.54L232.50,362.54Z" fill="#f00000"/>
<path d="M223.80,364.24L226.70,369.44L220.90,369.44Z" fill="#f00000"/>
<path d="M235.40,364.24L238.30,369.44L232.50,369.44Z" fill="#f00000"/>
<path d="M218.10,371.94L221.00,377.14L215.20,377.14Z" fill="#f00000"/>
<path d="M229.50,371.54L232.40,376.74L226.60,376.74Z" fill="#f00000"/>
<path d="M241.10,371.94L244.00,377.14L238.20,377.14Z" fill="#f00000"/>
<path d="M229.50,378.94L232.40,384.14L226.60,384.14Z" fill="#f00000"/>
<path d="M223.80,386.14L226.70,391.34L220.90,391.34Z" fill="#f00000"/>
<path d="M235.40,386.14L238.30,391.34L232.50,391.34Z" fill="#f00000"/>
<path d="M229.50,393.84L232.40,399.04L226.60,399.04Z" fill="#f00000"/>
<path d="M266.30,387.30 C266.83,386.85 267.47,386.80 268.00,386.80 C268.53,386.80 268.95,386.85 269.50,387.30 C270.05,387.75 271.22,388.55 271.30,389.50 C271.38,390.45 270.50,391.80 270.00,393.00 C269.50,394.20 268.25,395.48 268.30,396.70 C268.35,397.92 269.48,399.17 270.30,400.30 C271.12,401.43 272.25,402.42 273.20,403.50 C274.15,404.58 275.03,405.63 276.00,406.80 C276.97,407.97 278.08,409.30 279.00,410.50 C279.92,411.70 280.62,412.72 281.50,414.00 C282.38,415.28 284.28,417.03 284.30,418.20 C284.32,419.37 282.67,420.08 281.60,421.00 C280.53,421.92 279.12,422.48 277.90,423.70 C276.68,424.92 275.13,426.92 274.30,428.30 C273.47,429.68 273.22,430.63 272.90,432.00 C272.58,433.37 272.32,435.07 272.40,436.50 C272.48,437.93 272.88,439.60 273.40,440.60 C273.92,441.60 274.65,441.77 275.50,442.50 C276.35,443.23 277.83,444.17 278.50,445.00 C279.17,445.83 279.50,446.50 279.50,447.50 C279.50,448.50 278.83,449.75 278.50,451.00 C278.17,452.25 277.75,453.75 277.50,455.00 C277.25,456.25 277.15,457.33 277.00,458.50 C276.85,459.67 276.90,460.67 276.60,462.00 C276.30,463.33 276.05,465.28 275.20,466.50 C274.35,467.72 273.40,468.83 271.50,469.30 C269.60,469.77 265.32,469.77 263.80,469.30 C262.28,468.83 263.10,467.72 262.40,466.50 C261.70,465.28 260.13,463.67 259.60,462.00 C259.07,460.33 259.65,458.18 259.20,456.50 C258.75,454.82 257.55,453.20 256.90,451.90 C256.25,450.60 255.30,449.92 255.30,448.70 C255.30,447.48 256.03,445.73 256.90,444.60 C257.77,443.47 259.43,442.93 260.50,441.90 C261.57,440.87 262.75,439.75 263.30,438.40 C263.85,437.05 263.88,435.25 263.80,433.80 C263.72,432.35 263.42,430.92 262.80,429.70 C262.18,428.48 261.08,427.65 260.10,426.50 C259.12,425.35 258.05,423.87 256.90,422.80 C255.75,421.73 254.10,421.02 253.20,420.10 C252.30,419.18 251.35,418.18 251.50,417.30 C251.65,416.42 253.10,415.77 254.10,414.80 C255.10,413.83 256.43,412.63 257.50,411.50 C258.57,410.37 259.45,409.18 260.50,408.00 C261.55,406.82 262.88,405.65 263.80,404.40 C264.72,403.15 265.38,401.78 266.00,400.50 C266.62,399.22 267.53,397.95 267.50,396.70 C267.47,395.45 266.25,394.20 265.80,393.00 C265.35,391.80 264.72,390.45 264.80,389.50 C264.88,388.55 265.77,387.75 266.30,387.30Z" fill="none" stroke="#a0a0a0" stroke-width="1.2" stroke-linejoin="round"/>
<line x1="262.4" y1="429.4" x2="273.8" y2="429.4" stroke="#2828d8" stroke-width="1.6" stroke-linecap="butt"/>
<path d="M267.90,385.90L270.90,388.90L267.90,391.90L264.90,388.90Z" fill="#000"/>
<path d="M273.40,400.60L276.40,403.60L273.40,406.60L270.40,403.60Z" fill="#000"/>
<path d="M262.20,407.90L265.20,410.90L262.20,413.90L259.20,410.90Z" fill="#000"/>
<path d="M267.90,407.90L270.90,410.90L267.90,413.90L264.90,410.90Z" fill="#000"/>
<path d="M253.70,415.00L256.70,418.00L253.70,421.00L250.70,418.00Z" fill="#000"/>
<path d="M259.60,415.00L262.60,418.00L259.60,421.00L256.60,418.00Z" fill="#000"/>
<path d="M270.70,415.00L273.70,418.00L270.70,421.00L267.70,418.00Z" fill="#000"/>
<path d="M282.10,415.00L285.10,418.00L282.10,421.00L279.10,418.00Z" fill="#000"/>
<path d="M265.10,422.60L268.10,425.60L265.10,428.60L262.10,425.60Z" fill="#000"/>
<path d="M276.60,422.60L279.60,425.60L276.60,428.60L273.60,425.60Z" fill="#000"/>
<path d="M265.10,429.90L268.10,432.90L265.10,435.90L262.10,432.90Z" fill="#000"/>
<path d="M270.70,437.50L273.70,440.50L270.70,443.50L267.70,440.50Z" fill="#000"/>
<path d="M267.80,444.40L270.80,447.40L267.80,450.40L264.80,447.40Z" fill="#000"/>
<path d="M273.50,444.40L276.50,447.40L273.50,450.40L270.50,447.40Z" fill="#000"/>
<path d="M279.30,444.40L282.30,447.40L279.30,450.40L276.30,447.40Z" fill="#000"/>
<path d="M256.60,451.30L259.60,454.30L256.60,457.30L253.60,454.30Z" fill="#000"/>
<path d="M262.20,451.30L265.20,454.30L262.20,457.30L259.20,454.30Z" fill="#000"/>
<path d="M262.20,459.00L265.20,462.00L262.20,465.00L259.20,462.00Z" fill="#000"/>
<path d="M267.90,459.00L270.90,462.00L267.90,465.00L264.90,462.00Z" fill="#000"/>
<path d="M273.50,466.30L276.50,469.30L273.50,472.30L270.50,469.30Z" fill="#000"/>
<path d="M299.10,360.30 C299.68,359.63 301.72,358.70 303.00,358.70 C304.28,358.70 306.37,359.63 306.80,360.30 C307.23,360.97 305.40,361.95 305.60,362.70 C305.80,363.45 307.27,364.05 308.00,364.80 C308.73,365.55 309.87,366.40 310.00,367.20 C310.13,368.00 308.87,368.98 308.80,369.60 C308.73,370.22 308.65,370.42 309.60,370.90 C310.55,371.38 312.87,371.97 314.50,372.50 C316.13,373.03 318.65,373.57 319.40,374.10 C320.15,374.63 319.82,375.22 319.00,375.70 C318.18,376.18 316.20,376.58 314.50,377.00 C312.80,377.42 309.75,377.67 308.80,378.20 C307.85,378.73 308.60,379.47 308.80,380.20 C309.00,380.93 310.20,381.75 310.00,382.60 C309.80,383.45 307.12,384.62 307.60,385.30 C308.08,385.98 311.45,386.17 312.90,386.70 C314.35,387.23 315.68,387.95 316.30,388.50 C316.92,389.05 316.90,389.48 316.60,390.00 C316.30,390.52 315.60,391.07 314.50,391.60 C313.40,392.13 310.33,392.53 310.00,393.20 C309.67,393.87 311.95,394.87 312.50,395.60 C313.05,396.33 313.72,396.93 313.30,397.60 C312.88,398.27 310.82,398.92 310.00,399.60 C309.18,400.28 308.47,400.95 308.40,401.70 C308.33,402.45 309.73,403.37 309.60,404.10 C309.47,404.83 308.53,405.42 307.60,406.10 C306.67,406.78 304.72,407.25 304.00,408.20 C303.28,409.15 303.38,410.85 303.30,411.80 C303.22,412.75 303.05,413.15 303.50,413.90 C303.95,414.65 305.52,415.57 306.00,416.30 C306.48,417.03 306.60,417.68 306.40,418.30 C306.20,418.92 305.35,419.68 304.80,420.00 C304.25,420.32 303.65,420.20 303.10,420.20 C302.55,420.20 302.10,420.25 301.50,420.00 C300.90,419.75 299.83,419.25 299.50,418.70 C299.17,418.15 299.03,417.50 299.50,416.70 C299.97,415.90 301.77,414.72 302.30,413.90 C302.83,413.08 302.77,412.75 302.70,411.80 C302.63,410.85 302.63,409.15 301.90,408.20 C301.17,407.25 299.18,406.78 298.30,406.10 C297.42,405.42 296.75,404.83 296.60,404.10 C296.45,403.37 297.47,402.45 297.40,401.70 C297.33,400.95 297.00,400.28 296.20,399.60 C295.40,398.92 293.07,398.27 292.60,397.60 C292.13,396.93 292.80,396.35 293.40,395.60 C294.00,394.85 296.33,393.78 296.20,393.10 C296.07,392.42 293.72,392.10 292.60,391.50 C291.48,390.90 289.98,390.10 289.50,389.50 C289.02,388.90 289.05,388.43 289.70,387.90 C290.35,387.37 292.12,386.75 293.40,386.30 C294.68,385.85 296.93,386.02 297.40,385.20 C297.87,384.38 296.20,382.43 296.20,381.40 C296.20,380.37 297.73,379.67 297.40,379.00 C297.07,378.33 295.68,377.88 294.20,377.40 C292.72,376.92 289.85,376.52 288.50,376.10 C287.15,375.68 286.23,375.37 286.10,374.90 C285.97,374.43 286.48,373.83 287.70,373.30 C288.92,372.77 291.70,372.25 293.40,371.70 C295.10,371.15 297.43,370.68 297.90,370.00 C298.37,369.32 296.35,368.40 296.20,367.60 C296.05,366.80 296.45,366.02 297.00,365.20 C297.55,364.38 299.15,363.52 299.50,362.70 C299.85,361.88 298.52,360.97 299.10,360.30Z" fill="none" stroke="#222" stroke-width="1.4" stroke-linejoin="round"/>
<line x1="297.9" y1="385.5" x2="308" y2="385.5" stroke="#222" stroke-width="1.6" stroke-linecap="butt"/>
<path d="M303.00,357.04L305.90,362.24L300.10,362.24Z" fill="#f00000"/>
<path d="M299.10,364.74L302.00,369.94L296.20,369.94Z" fill="#f00000"/>
<path d="M306.40,364.74L309.30,369.94L303.50,369.94Z" fill="#f00000"/>
<path d="M288.50,371.64L291.40,376.84L285.60,376.84Z" fill="#f00000"/>
<path d="M295.80,371.64L298.70,376.84L292.90,376.84Z" fill="#f00000"/>
<path d="M303.00,371.64L305.90,376.84L300.10,376.84Z" fill="#f00000"/>
<path d="M310.00,371.64L312.90,376.84L307.10,376.84Z" fill="#f00000"/>
<path d="M317.00,371.64L319.90,376.84L314.10,376.84Z" fill="#f00000"/>
<path d="M299.10,378.94L302.00,384.14L296.20,384.14Z" fill="#f00000"/>
<path d="M306.40,378.94L309.30,384.14L303.50,384.14Z" fill="#f00000"/>
<path d="M292.20,386.44L295.10,391.64L289.30,391.64Z" fill="#f00000"/>
<path d="M299.10,386.44L302.00,391.64L296.20,391.64Z" fill="#f00000"/>
<path d="M306.40,386.44L309.30,391.64L303.50,391.64Z" fill="#f00000"/>
<path d="M313.30,386.44L316.20,391.64L310.40,391.64Z" fill="#f00000"/>
<path d="M295.80,393.94L298.70,399.14L292.90,399.14Z" fill="#f00000"/>
<path d="M303.00,393.94L305.90,399.14L300.10,399.14Z" fill="#f00000"/>
<path d="M310.00,393.94L312.90,399.14L307.10,399.14Z" fill="#f00000"/>
<path d="M299.10,401.24L302.00,406.44L296.20,406.44Z" fill="#f00000"/>
<path d="M306.40,401.24L309.30,406.44L303.50,406.44Z" fill="#f00000"/>
<path d="M303.00,415.44L305.90,420.64L300.10,420.64Z" fill="#f00000"/>
<path d="M336.70,418.00 C337.45,417.43 339.45,417.20 340.80,417.20 C342.15,417.20 344.00,417.43 344.80,418.00 C345.60,418.57 345.32,419.63 345.60,420.60 C345.88,421.57 346.08,422.45 346.50,423.80 C346.92,425.15 347.57,427.20 348.10,428.70 C348.63,430.20 349.63,431.45 349.70,432.80 C349.77,434.15 348.63,435.45 348.50,436.80 C348.37,438.15 348.57,439.68 348.90,440.90 C349.23,442.12 349.97,443.15 350.50,444.10 C351.03,445.05 351.80,445.70 352.10,446.60 C352.40,447.50 351.98,448.57 352.30,449.50 C352.62,450.43 353.30,451.32 354.00,452.20 C354.70,453.08 356.43,453.98 356.50,454.80 C356.57,455.62 355.83,456.32 354.40,457.10 C352.97,457.88 349.93,458.68 347.90,459.50 C345.87,460.32 342.20,461.18 342.20,462.00 C342.20,462.82 345.87,463.60 347.90,464.40 C349.93,465.20 352.72,466.05 354.40,466.80 C356.08,467.55 357.73,468.22 358.00,468.90 C358.27,469.58 357.00,470.30 356.00,470.90 C355.00,471.50 353.35,471.97 352.00,472.50 C350.65,473.03 348.85,473.55 347.90,474.10 C346.95,474.65 346.98,475.38 346.30,475.80 C345.62,476.22 345.18,476.48 343.80,476.60 C342.42,476.72 339.58,476.53 338.00,476.50 C336.42,476.47 335.20,476.52 334.30,476.40 C333.40,476.28 333.28,476.32 332.60,475.80 C331.92,475.28 331.42,474.12 330.20,473.30 C328.98,472.48 326.12,471.57 325.30,470.90 C324.48,470.23 324.48,469.98 325.30,469.30 C326.12,468.62 328.30,467.62 330.20,466.80 C332.10,465.98 334.93,465.20 336.70,464.40 C338.47,463.60 340.80,462.75 340.80,462.00 C340.80,461.25 338.47,460.58 336.70,459.90 C334.93,459.22 332.10,458.50 330.20,457.90 C328.30,457.30 326.25,456.98 325.30,456.30 C324.35,455.62 324.37,454.62 324.50,453.80 C324.63,452.98 325.55,452.35 326.10,451.40 C326.65,450.45 327.12,449.18 327.80,448.10 C328.48,447.02 329.27,445.98 330.20,444.90 C331.13,443.82 332.93,442.47 333.40,441.60 C333.87,440.73 332.78,440.63 333.00,439.70 C333.22,438.77 334.63,437.28 334.70,436.00 C334.77,434.72 333.47,433.22 333.40,432.00 C333.33,430.78 334.15,429.93 334.30,428.70 C334.45,427.47 333.97,425.95 334.30,424.60 C334.63,423.25 335.90,421.70 336.30,420.60 C336.70,419.50 335.95,418.57 336.70,418.00Z" fill="none" stroke="#a0a0a0" stroke-width="1.2" stroke-linejoin="round"/>
<line x1="331.1" y1="451" x2="351.4" y2="451" stroke="#2828d8" stroke-width="1.6" stroke-linecap="butt"/>
<path d="M341.20,415.10L344.20,418.10L341.20,421.10L338.20,418.10Z" fill="#000"/>
<path d="M336.50,422.40L339.50,425.40L336.50,428.40L333.50,425.40Z" fill="#000"/>
<path d="M345.80,422.40L348.80,425.40L345.80,428.40L342.80,425.40Z" fill="#000"/>
<path d="M334.30,429.90L337.30,432.90L334.30,435.90L331.30,432.90Z" fill="#000"/>
<path d="M339.00,429.90L342.00,432.90L339.00,435.90L336.00,432.90Z" fill="#000"/>
<path d="M343.50,437.50L346.50,440.50L343.50,443.50L340.50,440.50Z" fill="#000"/>
<path d="M348.40,437.50L351.40,440.50L348.40,443.50L345.40,440.50Z" fill="#000"/>
<path d="M327.30,444.30L330.30,447.30L327.30,450.30L324.30,447.30Z" fill="#000"/>
<path d="M341.30,444.30L344.30,447.30L341.30,450.30L338.30,447.30Z" fill="#000"/>
<path d="M350.60,444.30L353.60,447.30L350.60,450.30L347.60,447.30Z" fill="#000"/>
<path d="M331.90,451.80L334.90,454.80L331.90,457.80L328.90,454.80Z" fill="#000"/>
<path d="M336.70,451.80L339.70,454.80L336.70,457.80L333.70,454.80Z" fill="#000"/>
<path d="M345.90,451.80L348.90,454.80L345.90,457.80L342.90,454.80Z" fill="#000"/>
<path d="M355.20,451.80L358.20,454.80L355.20,457.80L352.20,454.80Z" fill="#000"/>
<path d="M329.40,466.40L332.40,469.40L329.40,472.40L326.40,469.40Z" fill="#000"/>
<path d="M334.00,466.40L337.00,469.40L334.00,472.40L331.00,469.40Z" fill="#000"/>
<path d="M338.80,466.40L341.80,469.40L338.80,472.40L335.80,469.40Z" fill="#000"/>
<path d="M343.50,466.40L346.50,469.40L343.50,472.40L340.50,469.40Z" fill="#000"/>
<path d="M348.20,473.60L351.20,476.60L348.20,479.60L345.20,476.60Z" fill="#000"/>
<path d="M353.10,473.60L356.10,476.60L353.10,479.60L350.10,476.60Z" fill="#000"/>
<path d="M376.00,379.50 C376.50,379.50 377.07,379.88 377.50,380.30 C377.93,380.72 378.55,381.38 378.60,382.00 C378.65,382.62 378.13,383.47 377.80,384.00 C377.47,384.53 376.60,384.77 376.60,385.20 C376.60,385.63 377.47,386.00 377.80,386.60 C378.13,387.20 378.60,388.07 378.60,388.80 C378.60,389.53 378.15,390.47 377.80,391.00 C377.45,391.53 376.72,390.50 376.50,392.00 C376.28,393.50 376.25,398.53 376.50,400.00 C376.75,401.47 377.17,400.47 378.00,400.80 C378.83,401.13 380.67,401.50 381.50,402.00 C382.33,402.50 383.00,403.22 383.00,403.80 C383.00,404.38 382.33,405.00 381.50,405.50 C380.67,406.00 378.82,406.45 378.00,406.80 C377.18,407.15 376.60,407.35 376.60,407.60 C376.60,407.85 377.18,407.98 378.00,408.30 C378.82,408.62 380.70,409.05 381.50,409.50 C382.30,409.95 382.80,410.45 382.80,411.00 C382.80,411.55 382.30,412.33 381.50,412.80 C380.70,413.27 378.78,413.47 378.00,413.80 C377.22,414.13 376.47,414.53 376.80,414.80 C377.13,415.07 378.30,415.15 380.00,415.40 C381.70,415.65 384.78,415.87 387.00,416.30 C389.22,416.73 392.55,417.45 393.30,418.00 C394.05,418.55 392.72,419.20 391.50,419.60 C390.28,420.00 387.92,420.17 386.00,420.40 C384.08,420.63 381.47,420.73 380.00,421.00 C378.53,421.27 377.40,421.67 377.20,422.00 C377.00,422.33 378.22,422.57 378.80,423.00 C379.38,423.43 380.43,423.97 380.70,424.60 C380.97,425.23 380.77,426.20 380.40,426.80 C380.03,427.40 379.07,427.83 378.50,428.20 C377.93,428.57 376.95,428.62 377.00,429.00 C377.05,429.38 378.18,429.93 378.80,430.50 C379.42,431.07 380.47,431.72 380.70,432.40 C380.93,433.08 380.65,434.08 380.20,434.60 C379.75,435.12 378.70,435.33 378.00,435.50 C377.30,435.67 376.67,435.60 376.00,435.60 C375.33,435.60 374.70,435.67 374.00,435.50 C373.30,435.33 372.25,435.12 371.80,434.60 C371.35,434.08 371.07,433.08 371.30,432.40 C371.53,431.72 372.58,431.07 373.20,430.50 C373.82,429.93 374.95,429.38 375.00,429.00 C375.05,428.62 374.07,428.57 373.50,428.20 C372.93,427.83 371.97,427.40 371.60,426.80 C371.23,426.20 371.03,425.23 371.30,424.60 C371.57,423.97 372.62,423.43 373.20,423.00 C373.78,422.57 375.00,422.33 374.80,422.00 C374.60,421.67 373.47,421.27 372.00,421.00 C370.53,420.73 367.92,420.63 366.00,420.40 C364.08,420.17 361.72,420.00 360.50,419.60 C359.28,419.20 357.95,418.55 358.70,418.00 C359.45,417.45 362.78,416.73 365.00,416.30 C367.22,415.87 370.30,415.65 372.00,415.40 C373.70,415.15 374.87,415.07 375.20,414.80 C375.53,414.53 374.78,414.13 374.00,413.80 C373.22,413.47 371.30,413.27 370.50,412.80 C369.70,412.33 369.20,411.55 369.20,411.00 C369.20,410.45 369.70,409.95 370.50,409.50 C371.30,409.05 373.18,408.62 374.00,408.30 C374.82,407.98 375.40,407.85 375.40,407.60 C375.40,407.35 374.82,407.15 374.00,406.80 C373.18,406.45 371.33,406.00 370.50,405.50 C369.67,405.00 369.00,404.38 369.00,403.80 C369.00,403.22 369.67,402.50 370.50,402.00 C371.33,401.50 373.17,401.13 374.00,400.80 C374.83,400.47 375.25,401.47 375.50,400.00 C375.75,398.53 375.72,393.50 375.50,392.00 C375.28,390.50 374.55,391.53 374.20,391.00 C373.85,390.47 373.40,389.53 373.40,388.80 C373.40,388.07 373.87,387.20 374.20,386.60 C374.53,386.00 375.40,385.63 375.40,385.20 C375.40,384.77 374.53,384.53 374.20,384.00 C373.87,383.47 373.35,382.62 373.40,382.00 C373.45,381.38 374.07,380.72 374.50,380.30 C374.93,379.88 375.50,379.50 376.00,379.50Z" fill="none" stroke="#222" stroke-width="1.1" stroke-linejoin="round"/>
<line x1="362" y1="417.7" x2="390" y2="417.7" stroke="#222" stroke-width="1.6" stroke-linecap="butt"/>
<path d="M376.00,379.42L378.45,383.92L373.55,383.92Z" fill="#f00000"/>
<path d="M376.00,386.82L378.45,391.32L373.55,391.32Z" fill="#f00000"/>
<path d="M371.50,401.42L373.95,405.92L369.05,405.92Z" fill="#f00000"/>
<path d="M376.00,401.42L378.45,405.92L373.55,405.92Z" fill="#f00000"/>
<path d="M380.50,401.42L382.95,405.92L378.05,405.92Z" fill="#f00000"/>
<path d="M371.50,408.62L373.95,413.12L369.05,413.12Z" fill="#f00000"/>
<path d="M376.00,408.62L378.45,413.12L373.55,413.12Z" fill="#f00000"/>
<path d="M380.50,408.62L382.95,413.12L378.05,413.12Z" fill="#f00000"/>
<path d="M360.50,416.02L362.95,420.52L358.05,420.52Z" fill="#f00000"/>
<path d="M364.50,416.02L366.95,420.52L362.05,420.52Z" fill="#f00000"/>
<path d="M368.50,416.02L370.95,420.52L366.05,420.52Z" fill="#f00000"/>
<path d="M372.30,416.02L374.75,420.52L369.85,420.52Z" fill="#f00000"/>
<path d="M376.00,416.02L378.45,420.52L373.55,420.52Z" fill="#f00000"/>
<path d="M379.80,416.02L382.25,420.52L377.35,420.52Z" fill="#f00000"/>
<path d="M383.60,416.02L386.05,420.52L381.15,420.52Z" fill="#f00000"/>
<path d="M387.50,416.02L389.95,420.52L385.05,420.52Z" fill="#f00000"/>
<path d="M391.50,416.02L393.95,420.52L389.05,420.52Z" fill="#f00000"/>
<path d="M373.80,423.72L376.25,428.22L371.35,428.22Z" fill="#f00000"/>
<path d="M378.20,423.72L380.65,428.22L375.75,428.22Z" fill="#f00000"/>
<path d="M373.80,430.82L376.25,435.32L371.35,435.32Z" fill="#f00000"/>
<path d="M378.20,430.82L380.65,435.32L375.75,435.32Z" fill="#f00000"/>
<text x="278" y="27.7" font-size="17" text-anchor="middle" font-weight="bold" fill="#111">B</text>
<text x="404.2" y="24.3" font-size="12.2" text-anchor="middle" fill="#333" stroke="#333" stroke-width="0.12">γH2AX foci AUC</text>
<rect x="364" y="151.2" width="37" height="57" fill="none" stroke="#aaa" stroke-width="1.6"/>
<rect x="422.9" y="102.5" width="38.2" height="105.7" fill="none" stroke="#222" stroke-width="1.8"/>
<path d="M382.40,120.70L385.10,123.40L382.40,126.10L379.70,123.40Z" fill="#000"/>
<path d="M390.50,122.40L393.20,125.10L390.50,127.80L387.80,125.10Z" fill="#000"/>
<path d="M374.60,124.90L377.30,127.60L374.60,130.30L371.90,127.60Z" fill="#000"/>
<path d="M366.70,129.70L369.40,132.40L366.70,135.10L364.00,132.40Z" fill="#000"/>
<path d="M374.60,131.30L377.30,134.00L374.60,136.70L371.90,134.00Z" fill="#000"/>
<path d="M390.50,132.00L393.20,134.70L390.50,137.40L387.80,134.70Z" fill="#000"/>
<path d="M382.40,133.50L385.10,136.20L382.40,138.90L379.70,136.20Z" fill="#000"/>
<path d="M398.40,136.50L401.10,139.20L398.40,141.90L395.70,139.20Z" fill="#000"/>
<path d="M378.60,144.80L381.30,147.50L378.60,150.20L375.90,147.50Z" fill="#000"/>
<path d="M386.50,144.80L389.20,147.50L386.50,150.20L383.80,147.50Z" fill="#000"/>
<path d="M374.60,150.90L377.30,153.60L374.60,156.30L371.90,153.60Z" fill="#000"/>
<path d="M382.40,151.40L385.10,154.10L382.40,156.80L379.70,154.10Z" fill="#000"/>
<path d="M390.50,154.30L393.20,157.00L390.50,159.70L387.80,157.00Z" fill="#000"/>
<path d="M398.40,155.10L401.10,157.80L398.40,160.50L395.70,157.80Z" fill="#000"/>
<path d="M366.80,156.60L369.50,159.30L366.80,162.00L364.10,159.30Z" fill="#000"/>
<path d="M378.60,166.70L381.30,169.40L378.60,172.10L375.90,169.40Z" fill="#000"/>
<path d="M386.50,168.80L389.20,171.50L386.50,174.20L383.80,171.50Z" fill="#000"/>
<path d="M374.60,171.30L377.30,174.00L374.60,176.70L371.90,174.00Z" fill="#000"/>
<path d="M382.40,173.40L385.10,176.10L382.40,178.80L379.70,176.10Z" fill="#000"/>
<path d="M390.50,177.90L393.20,180.60L390.50,183.30L387.80,180.60Z" fill="#000"/>
<path d="M426.20,69.36L428.90,74.16L423.50,74.16Z" fill="#f00000"/>
<path d="M434.10,69.56L436.80,74.36L431.40,74.36Z" fill="#f00000"/>
<path d="M449.90,66.66L452.60,71.46L447.20,71.46Z" fill="#f00000"/>
<path d="M457.70,68.76L460.40,73.56L455.00,73.56Z" fill="#f00000"/>
<path d="M441.90,73.16L444.60,77.96L439.20,77.96Z" fill="#f00000"/>
<path d="M434.10,83.76L436.80,88.56L431.40,88.56Z" fill="#f00000"/>
<path d="M441.90,82.26L444.60,87.06L439.20,87.06Z" fill="#f00000"/>
<path d="M449.90,88.86L452.60,93.66L447.20,93.66Z" fill="#f00000"/>
<path d="M441.90,91.66L444.60,96.46L439.20,96.46Z" fill="#f00000"/>
<path d="M449.90,95.96L452.60,100.76L447.20,100.76Z" fill="#f00000"/>
<path d="M434.10,100.26L436.80,105.06L431.40,105.06Z" fill="#f00000"/>
<path d="M438.20,103.86L440.90,108.66L435.50,108.66Z" fill="#f00000"/>
<path d="M441.90,102.36L444.60,107.16L439.20,107.16Z" fill="#f00000"/>
<path d="M446.00,111.16L448.70,115.96L443.30,115.96Z" fill="#f00000"/>
<path d="M446.00,121.86L448.70,126.66L443.30,126.66Z" fill="#f00000"/>
<path d="M438.20,124.06L440.90,128.86L435.50,128.86Z" fill="#f00000"/>
<path d="M434.10,129.66L436.80,134.46L431.40,134.46Z" fill="#f00000"/>
<path d="M441.90,133.56L444.60,138.36L439.20,138.36Z" fill="#f00000"/>
<path d="M449.90,135.16L452.60,139.96L447.20,139.96Z" fill="#f00000"/>
<path d="M441.90,143.36L444.60,148.16L439.20,148.16Z" fill="#f00000"/>
<line x1="382.4" y1="132" x2="382.4" y2="168" stroke="#aaa" stroke-width="1.4" stroke-linecap="butt"/>
<line x1="373.5" y1="132" x2="392" y2="132" stroke="#aaa" stroke-width="1.6" stroke-linecap="butt"/>
<line x1="373.5" y1="168" x2="392" y2="168" stroke="#aaa" stroke-width="1.6" stroke-linecap="butt"/>
<line x1="441.9" y1="76.8" x2="441.9" y2="127" stroke="#222" stroke-width="1.4" stroke-linecap="butt"/>
<line x1="432.3" y1="76.8" x2="451.8" y2="76.8" stroke="#222" stroke-width="1.6" stroke-linecap="butt"/>
<line x1="432.3" y1="127" x2="451.8" y2="127" stroke="#222" stroke-width="1.6" stroke-linecap="butt"/>
<line x1="342.8" y1="65.3" x2="342.8" y2="208.95" stroke="#222" stroke-width="1.5" stroke-linecap="butt"/>
<line x1="342.05" y1="208.2" x2="482.1" y2="208.2" stroke="#222" stroke-width="1.5" stroke-linecap="butt"/>
<line x1="339" y1="208.2" x2="342.8" y2="208.2" stroke="#222" stroke-width="1.5" stroke-linecap="butt"/>
<text x="337.2" y="213.0" font-size="13.5" text-anchor="end" fill="#222" stroke="#222" stroke-width="0.2">0</text>
<line x1="339" y1="172.64999999999998" x2="342.8" y2="172.64999999999998" stroke="#222" stroke-width="1.5" stroke-linecap="butt"/>
<text x="337.2" y="177.45" font-size="13.5" text-anchor="end" fill="#222" stroke="#222" stroke-width="0.2">250</text>
<line x1="339" y1="137.1" x2="342.8" y2="137.1" stroke="#222" stroke-width="1.5" stroke-linecap="butt"/>
<text x="337.2" y="141.9" font-size="13.5" text-anchor="end" fill="#222" stroke="#222" stroke-width="0.2">500</text>
<line x1="339" y1="101.55" x2="342.8" y2="101.55" stroke="#222" stroke-width="1.5" stroke-linecap="butt"/>
<text x="337.2" y="106.35" font-size="13.5" text-anchor="end" fill="#222" stroke="#222" stroke-width="0.2">750</text>
<line x1="339" y1="66.0" x2="342.8" y2="66.0" stroke="#222" stroke-width="1.5" stroke-linecap="butt"/>
<text x="337.2" y="70.8" font-size="13.5" text-anchor="end" fill="#222" stroke="#222" stroke-width="0.2">1000</text>
<line x1="382.5" y1="208.2" x2="382.5" y2="211.8" stroke="#222" stroke-width="1.5" stroke-linecap="butt"/>
<text x="382.5" y="226.3" font-size="15" text-anchor="middle" fill="#222" stroke="#222" stroke-width="0.15">HC</text>
<line x1="441.9" y1="208.2" x2="441.9" y2="211.8" stroke="#222" stroke-width="1.5" stroke-linecap="butt"/>
<text x="441.9" y="226.3" font-size="15" text-anchor="middle" fill="#222" stroke="#222" stroke-width="0.15">LC</text>
<text x="283.5" y="132.5" font-size="14.4" text-anchor="middle" fill="#2a2a2a" transform="rotate(-90 283.5 132.5)" stroke="#2a2a2a" stroke-width="0.12">(mean <tspan font-style="italic">γ</tspan>H2AX foci</text>
<text x="300.5" y="132.2" font-size="14.2" text-anchor="middle" fill="#2a2a2a" transform="rotate(-90 300.5 132.2)" stroke="#2a2a2a" stroke-width="0.12">per nucleus) x h</text>
<text x="409.9" y="48.5" font-size="11.5" text-anchor="middle" fill="#222" stroke="#222" stroke-width="0.12"><tspan font-style="italic">p</tspan>&lt;0.001</text>
<line x1="379.2" y1="57.1" x2="442.8" y2="57.1" stroke="#333" stroke-width="1.4" stroke-linecap="butt"/>
<text x="133.7" y="277.5" font-size="17" text-anchor="middle" font-weight="bold" fill="#111">C</text>
<text x="265.5" y="276.3" font-size="13.3" text-anchor="middle" fill="#222" stroke="#222" stroke-width="0.12">Apoptosis</text>
<line x1="170.5" y1="322.45" x2="170.5" y2="499.35" stroke="#222" stroke-width="1.5" stroke-linecap="butt"/>
<line x1="169.75" y1="498.6" x2="401" y2="498.6" stroke="#222" stroke-width="1.5" stroke-linecap="butt"/>
<line x1="166.8" y1="498.6" x2="170.5" y2="498.6" stroke="#222" stroke-width="1.5" stroke-linecap="butt"/>
<text x="164.8" y="502.6" font-size="12" text-anchor="end" fill="#222" stroke="#222" stroke-width="0.25">0</text>
<line x1="166.8" y1="469.36600000000004" x2="170.5" y2="469.36600000000004" stroke="#222" stroke-width="1.5" stroke-linecap="butt"/>
<text x="164.8" y="473.36600000000004" font-size="12" text-anchor="end" fill="#222" stroke="#222" stroke-width="0.25">20</text>
<line x1="166.8" y1="440.132" x2="170.5" y2="440.132" stroke="#222" stroke-width="1.5" stroke-linecap="butt"/>
<text x="164.8" y="444.132" font-size="12" text-anchor="end" fill="#222" stroke="#222" stroke-width="0.25">40</text>
<line x1="166.8" y1="410.898" x2="170.5" y2="410.898" stroke="#222" stroke-width="1.5" stroke-linecap="butt"/>
<text x="164.8" y="414.898" font-size="12" text-anchor="end" fill="#222" stroke="#222" stroke-width="0.25">60</text>
<line x1="166.8" y1="381.664" x2="170.5" y2="381.664" stroke="#222" stroke-width="1.5" stroke-linecap="butt"/>
<text x="164.8" y="385.664" font-size="12" text-anchor="end" fill="#222" stroke="#222" stroke-width="0.25">80</text>
<line x1="166.8" y1="352.43000000000006" x2="170.5" y2="352.43000000000006" stroke="#222" stroke-width="1.5" stroke-linecap="butt"/>
<text x="164.8" y="356.43000000000006" font-size="12" text-anchor="end" fill="#222" stroke="#222" stroke-width="0.25">100</text>
<line x1="166.8" y1="323.196" x2="170.5" y2="323.196" stroke="#222" stroke-width="1.5" stroke-linecap="butt"/>
<text x="164.8" y="327.196" font-size="12" text-anchor="end" fill="#222" stroke="#222" stroke-width="0.25">120</text>
<line x1="211.7" y1="498.6" x2="211.7" y2="502.3" stroke="#222" stroke-width="1.5" stroke-linecap="butt"/>
<text x="211.7" y="515" font-size="12" text-anchor="middle" fill="#222" stroke="#222" stroke-width="0.25">24</text>
<line x1="285.5" y1="498.6" x2="285.5" y2="502.3" stroke="#222" stroke-width="1.5" stroke-linecap="butt"/>
<text x="285.5" y="515" font-size="12" text-anchor="middle" fill="#222" stroke="#222" stroke-width="0.25">48</text>
<line x1="358.8" y1="498.6" x2="358.8" y2="502.3" stroke="#222" stroke-width="1.5" stroke-linecap="butt"/>
<text x="358.8" y="515" font-size="12" text-anchor="middle" fill="#222" stroke="#222" stroke-width="0.25">72</text>
<text x="285.5" y="537.6" font-size="12.4" text-anchor="middle" fill="#222" stroke="#222" stroke-width="0.12">post-incubation time (h)</text>
<text x="120.4" y="409.9" font-size="12.5" text-anchor="middle" fill="#222" transform="rotate(-90 120.4 409.9)" stroke="#222" stroke-width="0.12">cisplatin dose</text>
<text x="136.2" y="410.25" font-size="12.7" text-anchor="middle" fill="#222" transform="rotate(-90 136.2 410.25)" stroke="#222" stroke-width="0.12">inducing apoptosis (µg/ml)</text>
<path d="M195.5,313.4V308.9H230.4V313.4" fill="none" stroke="#333" stroke-width="1.5"/>
<text x="212.5" y="303" font-size="10.1" text-anchor="middle" fill="#333" stroke="#333" stroke-width="0.12">&lt;0.0001</text>
<path d="M264.5,313.4V308.9H302.6V313.4" fill="none" stroke="#333" stroke-width="1.5"/>
<text x="282.7" y="303" font-size="10.1" text-anchor="middle" fill="#333" stroke="#333" stroke-width="0.12">&lt;0.0001</text>
<path d="M340.59999999999997,313.4V308.9H372.90000000000003V313.4" fill="none" stroke="#333" stroke-width="1.5"/>
<text x="356.7" y="303" font-size="10.1" text-anchor="middle" fill="#333" stroke="#333" stroke-width="0.12">&lt;0.0001</text>
<rect x="339" y="337.7" width="8.6" height="6.1" fill="none" stroke="#aaa" stroke-width="1.4"/>
<rect x="339" y="351.6" width="8.6" height="5.6" fill="none" stroke="#222" stroke-width="1.6"/>
<text x="353.8" y="344.5" font-size="10.3" text-anchor="start" fill="#333" stroke="#333" stroke-width="0.12">HC</text>
<text x="353.8" y="357.9" font-size="10.3" text-anchor="start" fill="#333" stroke="#333" stroke-width="0.12">LC</text>
</g></svg>
</body></html>
